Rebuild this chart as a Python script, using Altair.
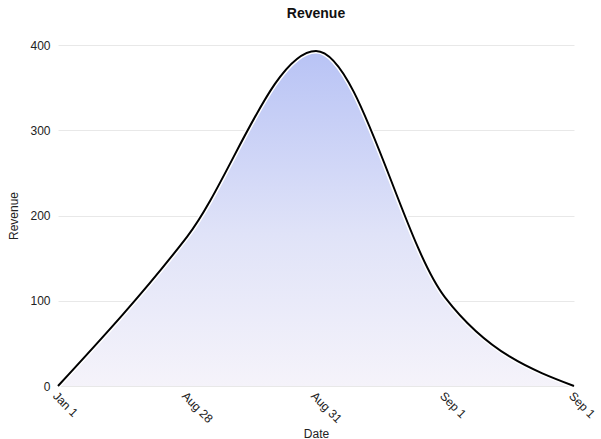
import json
import altair as alt
import pandas as pd

# Daily revenue, one point per labelled day
date_labels = ["Jan 1", "Aug 28", "Aug 31", "Sep 1", "Sep 1"]
revenue = [0, 175, 393, 104, 0]

df = pd.DataFrame({
    "idx": list(range(len(date_labels))),
    "date": date_labels,
    "revenue": revenue,
})

label_expr = json.dumps(date_labels) + "[datum.value]"

x_enc = alt.X(
    "idx:O",
    title="Date",
    scale=alt.Scale(type="point", padding=0),
    axis=alt.Axis(
        labelExpr=label_expr,
        labelAngle=45,
        labelAlign="left",
        labelBaseline="top",
        labelPadding=4,
        labelFontSize=12,
        labelColor="#222222",
        ticks=False,
        domain=False,
        grid=False,
        titleY=51,
        titleBaseline="alphabetic",
        titleFontSize=12,
        titleFontWeight="normal",
        titleColor="#222222",
    ),
)
y_enc = alt.Y(
    "revenue:Q",
    title="Revenue",
    scale=alt.Scale(domain=[0, 400]),
    axis=alt.Axis(
        values=[0, 100, 200, 300, 400],
        ticks=False,
        domain=False,
        labelPadding=8,
        labelFontSize=12,
        labelColor="#222222",
        gridColor="#e8e8e8",
        titlePadding=9,
        titleFontSize=12,
        titleFontWeight="normal",
        titleColor="#222222",
    ),
)

base = alt.Chart(df).encode(x=x_enc, y=y_enc)

fill = base.mark_area(
    interpolate="monotone",
    color=alt.Gradient(
        gradient="linear",
        stops=[
            alt.GradientStop(color="#f5f3fa", offset=0),
            alt.GradientStop(color="#e0e3f8", offset=0.45),
            alt.GradientStop(color="#b8c3f5", offset=1),
        ],
        x1=0, x2=0, y1=1, y2=0,
    ),
)

halo = base.mark_line(interpolate="monotone", color="white", strokeWidth=5)
edge = base.mark_line(interpolate="monotone", color="black", strokeWidth=2)

chart = (
    alt.layer(fill, halo, edge)
    .properties(
        width=516,
        height=341,
        autosize=alt.AutoSizeParams(type="none"),
        padding={"left": 58, "top": 45, "right": 27, "bottom": 53},
        title=alt.TitleParams(
            "Revenue", fontSize=14, fontWeight="bold", color="#111111",
            offset=18, anchor="middle",
        ),
    )
    .configure(font="Liberation Sans")
    .configure_view(stroke=None)
)

chart.save("out.html", embed_options={"renderer": "svg", "actions": False})
